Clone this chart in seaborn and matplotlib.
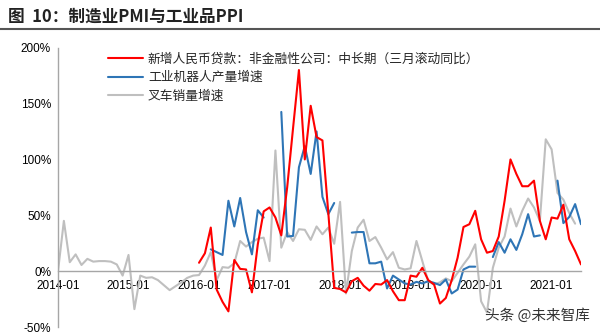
import numpy as np
import pandas as pd
import matplotlib
matplotlib.use("Agg")
import matplotlib.pyplot as plt
import seaborn as sns
from matplotlib.lines import Line2D

nan = np.nan

# ---- data ----
months = [str(p) for p in pd.period_range("2014-01", "2021-06", freq="M")]
x_ticklabels = ["2014-01", "2015-01", "2016-01", "2017-01",
                "2018-01", "2019-01", "2020-01", "2021-01"]
y_ticks = [-50, 0, 50, 100, 150, 200]

series_names = ["新增人民币贷款：非金融性公司：中长期（三月滚动同比）",
                "工业机器人产量增速",
                "叉车销量增速"]

loan_growth = [nan] * 24 + [
    7.5, 16, 39, -16.5, -27.5, -36, 10, 2, 1.5, -19, 24, 53.5,
    57, 48, 32, 75, 128, 180, 100, 148, 120, 117, 52, -15,
    -16, -19, -9, -6, -13, -17.5, -11.5, -12, -8, -18, -26, -26,
    -4, -5, 3, -8, -12, -29, -24, -8, 12, 39.5, 42, 54,
    28.5, 16.5, 18, 31, 63, 100, 87, 76, 76, 81, 45, 28.5,
    48, 47, 59.5, 28.5, 18, 6]

robot_growth = [nan] * 26 + [
    19.5, 17, 14.5, 63, 40, 65.5, 35, 15, 54.5, 48,
    nan, nan, 142.5, 31, 31.5, 93, 112, 87, 125, 66.5, 51, 61,
    nan, nan, 34.5, 35, 35, 7, 7, 8.5, -15.5, -4, -7.5, -11,
    -12, -9.6, -11, -9, -10.5, -12.5, -7.5, -20, -16.5, 1.5, 4, 4,
    nan, nan, 12.6, 26, 16.5, 28.5, 19, 33, 51, 31, 32, nan,
    nan, 81, 43, 48.5, 60, 42]

forklift_growth = [
    0, 45, 8, 15, 5.5, 11, 8.5, 9, 9, 8.5, 6, -4,
    14.5, -34, -4, -6, -5.5, -8, -12.5, -17, -13.5, -10, -6, -4,
    -3.5, 5, 17, -8, 3.6, 3, 7, 27, 22, 26, 29, 30,
    9, 108, 21, 35, 27, 37.5, 37, 28, 40, 33, 39, 24.5,
    62, -20, 18, 39, 46, 27, 30.5, 21, 10.5, 17, 3, 1.5,
    2.5, 27, 9, -9, -12, -10, -6.5, -9, -1.5, 6, 13, 24,
    -27, -37, 3, 21, 31, 56, 40, 54, 65, 57, 45, 118,
    109, 70, 64, 52, 42.5, nan]

colors = ["#FF0000", "#2E75B6", "#BFBFBF"]


def to_frame(values, name):
    v = np.array(values, dtype=float)
    df = pd.DataFrame({"idx": np.arange(len(v)), "value": v,
                       "seg": np.cumsum(np.isnan(v)), "series": name})
    return df.dropna()


frames = [to_frame(loan_growth, series_names[0]),
          to_frame(robot_growth, series_names[1]),
          to_frame(forklift_growth, series_names[2])]

# ---- plot ----
sns.set_theme(style="white")
plt.rcParams["font.family"] = ["Liberation Sans", "Noto Sans CJK SC", "DejaVu Sans"]

fig = plt.figure(figsize=(6, 3.36), dpi=100)
ax = fig.add_axes([58 / 600, 1 - 327 / 336, (581 - 58) / 600, (327 - 47.7) / 336])

for i in [2, 1, 0]:
    sns.lineplot(data=frames[i], x="idx", y="value", units="seg", estimator=None,
                 color=colors[i], lw=1.5, ax=ax, legend=False)

ax.set_xlim(0, len(months) - 1)
ax.set_ylim(-50, 200)
ax.set_xlabel("")
ax.set_ylabel("")

tick_pos = [months.index(t) for t in x_ticklabels]
ax.set_xticks(tick_pos)
ax.set_xticklabels(x_ticklabels)
ax.set_yticks(y_ticks)
ax.set_yticklabels([f"{t}%" for t in y_ticks])

for s in ["top", "right"]:
    ax.spines[s].set_visible(False)
ax.spines["bottom"].set_position(("data", 0))
ax.spines["bottom"].set_color("#A6A6A6")
ax.spines["bottom"].set_linewidth(1.0)
ax.spines["left"].set_color("#A6A6A6")
ax.spines["left"].set_linewidth(1.0)

ax.tick_params(axis="x", length=0, pad=6.5, labelsize=8.5, labelcolor="black")
ax.tick_params(axis="y", direction="out", length=3, width=1, color="#A6A6A6",
               pad=2, labelsize=8.5, labelcolor="black")
ax.set_facecolor("white")

handles = [Line2D([], [], color=c, lw=1.5) for c in colors]
ax.legend(handles, series_names, loc="upper left", bbox_to_anchor=(0.095, 0.982),
          frameon=False, handlelength=2.75, handletextpad=0.4, labelspacing=0.42,
          borderaxespad=0, borderpad=0,
          prop={"family": ["Noto Sans CJK SC"], "size": 9.2})

fig.text(8 / 600, 1 - 16.5 / 336, "图  10：制造业PMI与工业品PPI", fontsize=12,
         fontweight="bold", family=["Noto Sans CJK SC"], va="center", color="#222222")
fig.add_artist(Line2D([0, 1], [1 - 29 / 336] * 2, transform=fig.transFigure,
                      color="#555555", lw=1.5))
fig.text(590 / 600, 1 - 316 / 336, "头条 @未来智库", ha="right", va="center",
         fontsize=10.5, color="#333333", family=["Noto Sans CJK SC"])

fig.savefig("out.png", dpi=100, facecolor="white")
